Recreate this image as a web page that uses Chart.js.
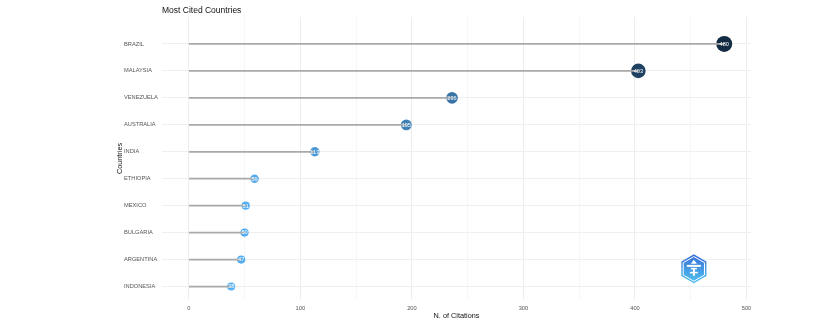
<!DOCTYPE html>
<html>
<head>
<meta charset="utf-8">
<script src="https://cdn.jsdelivr.net/npm/chart.js@4/dist/chart.umd.min.js"></script>
<style>
html,body{margin:0;padding:0;background:#ffffff;}
canvas{display:block;}
</style>
</head>
<body>
<canvas id="c" width="821" height="326"></canvas>
<script>
// ---- data ----
const countries = ["BRAZIL","MALAYSIA","VENEZUELA","AUSTRALIA","INDIA","ETHIOPIA","MEXICO","BULGARIA","ARGENTINA","INDONESIA"];
const citations = [480, 403, 236, 195, 113, 59, 51, 50, 47, 38];
const xTickValues = [0, 50, 100, 150, 200, 250, 300, 350, 400, 450, 500];
const chartTitle = "Most Cited Countries";
const xTitle = "N. of Citations";
const yTitle = "Countries";

const FONT = "'Liberation Sans', Arial, sans-serif";
const vMin = Math.min(...citations), vMax = Math.max(...citations);
const lowC = [86,177,247], highC = [19,43,67];
function colorFor(v){
  const t = (v - vMin) / (vMax - vMin);
  const c = lowC.map((l,i)=>Math.round(l + (highC[i]-l)*t));
  return `rgb(${c[0]},${c[1]},${c[2]})`;
}
function radiusFor(v){
  return 4 + 4 * (v - vMin) / (vMax - vMin);
}

const stemData = citations.map((v,i)=>({x:v, y:i}));
const dotData = citations.map((v,i)=>({x:v, y:i}));

const overlay = {
  id: 'overlay',
  afterDatasetsDraw(chart){
    const ctx = chart.ctx;
    const meta = chart.getDatasetMeta(1);
    ctx.save();
    ctx.fillStyle = '#ffffff';
    ctx.font = `5.6px ${FONT}`;
    ctx.textAlign = 'center';
    ctx.textBaseline = 'middle';
    meta.data.forEach((pt, i)=>{
      ctx.fillText(String(citations[i]), pt.x, pt.y + 0.3);
    });
    ctx.restore();
  },
  afterDraw(chart){
    const ctx = chart.ctx;
    const a = chart.chartArea;
    ctx.save();
    ctx.fillStyle = '#111111';
    ctx.font = `8.5px ${FONT}`;
    ctx.textAlign = 'left';
    ctx.textBaseline = 'alphabetic';
    ctx.fillText(chartTitle, a.left, 12.7);
    ctx.font = `7.3px ${FONT}`;
    ctx.textAlign = 'center';
    ctx.fillText(xTitle, (a.left + a.right)/2, 318);
    ctx.translate(122, (a.top + a.bottom)/2);
    ctx.rotate(-Math.PI/2);
    ctx.fillText(yTitle, 0, 0);
    ctx.restore();

    // logo (decoration)
    const cx = a.left + 0.903*(a.right - a.left);
    const cy = a.top + 0.89*(a.bottom - a.top);
    const R = 14.5;
    ctx.save();
    const hex = (r)=>{
      ctx.beginPath();
      for(let k=0;k<6;k++){
        const ang = -Math.PI/2 + k*Math.PI/3;
        const px = cx + r*Math.cos(ang), py = cy + r*Math.sin(ang);
        k===0 ? ctx.moveTo(px,py) : ctx.lineTo(px,py);
      }
      ctx.closePath();
    };
    const g = ctx.createLinearGradient(cx, cy-R, cx, cy+R);
    g.addColorStop(0, '#3a6fd8');
    g.addColorStop(1, '#4fc3f0');
    hex(R); ctx.fillStyle = g; ctx.fill();
    hex(R-2.2); ctx.strokeStyle = '#ffffff'; ctx.lineWidth = 1; ctx.stroke();
    hex(R-3.2); ctx.fillStyle = g; ctx.fill();
    ctx.fillStyle = '#ffffff';
    ctx.fillRect(cx-7, cy-4, 14, 2);
    ctx.beginPath(); ctx.moveTo(cx, cy-9); ctx.lineTo(cx-3, cy-5); ctx.lineTo(cx+3, cy-5); ctx.closePath(); ctx.fill();
    ctx.fillRect(cx-3, cy-1, 6, 1.5);
    ctx.fillRect(cx-1, cy-1, 2, 8);
    ctx.fillRect(cx-4, cy+3, 8, 1.5);
    ctx.restore();
  }
};

new Chart(document.getElementById('c'), {
  type: 'bar',
  data: {
    datasets: [
      {
        type: 'bar',
        data: stemData,
        indexAxis: 'y',
        backgroundColor: '#a9a9a9',
        borderWidth: 0,
        barThickness: 1.1
      },
      {
        type: 'scatter',
        data: dotData,
        indexAxis: 'y',
        showLine: false,
        pointRadius: citations.map(radiusFor),
        pointHoverRadius: citations.map(radiusFor),
        pointBackgroundColor: citations.map(colorFor),
        pointBorderWidth: 0
      }
    ]
  },
  options: {
    responsive: false,
    animation: false,
    indexAxis: 'y',
    events: [],
    layout: { padding: { left: 124, right: 70, top: 17, bottom: 0 } },
    plugins: { legend: { display: false }, title: { display: false }, tooltip: { enabled: false } },
    scales: {
      x: {
        type: 'linear',
        min: -24, max: 504,
        offset: false,
        afterBuildTicks: (s)=>{ s.ticks = xTickValues.map(v=>({value:v})); },
        afterFit: (s)=>{ s.height = 26; },
        grid: {
          offset: false,
          drawTicks: false,
          color: (c)=> (c.tick && c.tick.value % 100 === 0) ? '#ededed' : '#f6f6f6',
          lineWidth: 1
        },
        border: { display: false },
        ticks: {
          padding: 5,
          color: '#555555',
          font: { family: FONT, size: 5.7 },
          maxRotation: 0,
          autoSkip: false,
          callback: (v)=> (v % 100 === 0) ? String(v) : ''
        }
      },
      y: {
        type: 'linear',
        reverse: true,
        offset: false,
        min: -1, max: 9.5,
        afterBuildTicks: (s)=>{ s.ticks = countries.map((_,i)=>({value:i})); },
        afterFit: (s)=>{ s.width = 38; },
        grid: { offset: false, drawTicks: false, color: '#efefef', lineWidth: 1 },
        border: { display: false },
        ticks: {
          crossAlign: 'far',
          color: '#555555',
          font: { family: FONT, size: 5.7 },
          autoSkip: false,
          callback: (v)=> countries[v] ?? ''
        }
      }
    }
  },
  plugins: [overlay]
});
</script>
</body>
</html>
